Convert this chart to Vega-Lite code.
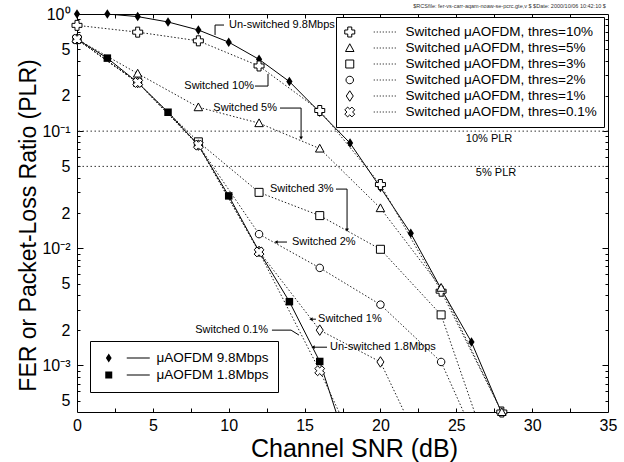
{
  "$schema": "https://vega.github.io/schema/vega-lite/v6.json",
  "width": 531,
  "height": 398,
  "autosize": {"type": "none"},
  "padding": {"left": 77, "top": 14, "right": 16, "bottom": 50},
  "background": "white",
  "title": {"text": "$RCSfile: fer-vs-carr-aqam-noaw-se-pcrc.gte,v $ $Date: 2000/10/06 10:42:10 $", "anchor": "end", "fontSize": 5.5, "font": "Liberation Sans", "fontWeight": "normal", "color": "#333", "offset": -3, "dx": -11},
  "config": {"view": {"stroke": "black", "strokeWidth": 1}, "font": "Liberation Sans", "axis": {"grid": false, "domain": false}},
  "data": {"values": [
    {"s": "μAOFDM 9.8Mbps", "snr": 0, "v": 1.0},
    {"s": "μAOFDM 9.8Mbps", "snr": 2, "v": 1.0},
    {"s": "μAOFDM 9.8Mbps", "snr": 4, "v": 0.95},
    {"s": "μAOFDM 9.8Mbps", "snr": 6, "v": 0.855},
    {"s": "μAOFDM 9.8Mbps", "snr": 8, "v": 0.73},
    {"s": "μAOFDM 9.8Mbps", "snr": 10, "v": 0.575},
    {"s": "μAOFDM 9.8Mbps", "snr": 12, "v": 0.41},
    {"s": "μAOFDM 9.8Mbps", "snr": 14, "v": 0.265},
    {"s": "μAOFDM 9.8Mbps", "snr": 16, "v": 0.145},
    {"s": "μAOFDM 9.8Mbps", "snr": 18, "v": 0.079},
    {"s": "μAOFDM 9.8Mbps", "snr": 20, "v": 0.033},
    {"s": "μAOFDM 9.8Mbps", "snr": 22, "v": 0.0134},
    {"s": "μAOFDM 9.8Mbps", "snr": 24, "v": 0.0045},
    {"s": "μAOFDM 9.8Mbps", "snr": 26, "v": 0.00158},
    {"s": "μAOFDM 9.8Mbps", "snr": 28, "v": 0.00039},
    {"s": "μAOFDM 1.8Mbps", "snr": 0, "v": 0.61},
    {"s": "μAOFDM 1.8Mbps", "snr": 2, "v": 0.42},
    {"s": "μAOFDM 1.8Mbps", "snr": 4, "v": 0.26},
    {"s": "μAOFDM 1.8Mbps", "snr": 6, "v": 0.145},
    {"s": "μAOFDM 1.8Mbps", "snr": 8, "v": 0.076},
    {"s": "μAOFDM 1.8Mbps", "snr": 10, "v": 0.028},
    {"s": "μAOFDM 1.8Mbps", "snr": 12, "v": 0.0094},
    {"s": "μAOFDM 1.8Mbps", "snr": 14, "v": 0.0035},
    {"s": "μAOFDM 1.8Mbps", "snr": 16, "v": 0.00108},
    {"s": "μAOFDM 1.8Mbps", "snr": 18, "v": 0.00017},
    {"s": "Switched μAOFDM, thres=10%", "snr": 0, "v": 0.8},
    {"s": "Switched μAOFDM, thres=10%", "snr": 4, "v": 0.7},
    {"s": "Switched μAOFDM, thres=10%", "snr": 8, "v": 0.59},
    {"s": "Switched μAOFDM, thres=10%", "snr": 12, "v": 0.36},
    {"s": "Switched μAOFDM, thres=10%", "snr": 16, "v": 0.15},
    {"s": "Switched μAOFDM, thres=10%", "snr": 20, "v": 0.035},
    {"s": "Switched μAOFDM, thres=10%", "snr": 24, "v": 0.0043},
    {"s": "Switched μAOFDM, thres=10%", "snr": 28, "v": 0.0004},
    {"s": "Switched μAOFDM, thres=5%", "snr": 0, "v": 0.61},
    {"s": "Switched μAOFDM, thres=5%", "snr": 4, "v": 0.31},
    {"s": "Switched μAOFDM, thres=5%", "snr": 8, "v": 0.16},
    {"s": "Switched μAOFDM, thres=5%", "snr": 12, "v": 0.117},
    {"s": "Switched μAOFDM, thres=5%", "snr": 16, "v": 0.071},
    {"s": "Switched μAOFDM, thres=5%", "snr": 20, "v": 0.022},
    {"s": "Switched μAOFDM, thres=5%", "snr": 24, "v": 0.0046},
    {"s": "Switched μAOFDM, thres=5%", "snr": 28, "v": 0.0004},
    {"s": "Switched μAOFDM, thres=3%", "snr": 0, "v": 0.61},
    {"s": "Switched μAOFDM, thres=3%", "snr": 4, "v": 0.26},
    {"s": "Switched μAOFDM, thres=3%", "snr": 8, "v": 0.081},
    {"s": "Switched μAOFDM, thres=3%", "snr": 12, "v": 0.03},
    {"s": "Switched μAOFDM, thres=3%", "snr": 16, "v": 0.019},
    {"s": "Switched μAOFDM, thres=3%", "snr": 20, "v": 0.0098},
    {"s": "Switched μAOFDM, thres=3%", "snr": 24, "v": 0.0027},
    {"s": "Switched μAOFDM, thres=3%", "snr": 28, "v": 0.000084},
    {"s": "Switched μAOFDM, thres=2%", "snr": 0, "v": 0.61},
    {"s": "Switched μAOFDM, thres=2%", "snr": 4, "v": 0.26},
    {"s": "Switched μAOFDM, thres=2%", "snr": 8, "v": 0.076},
    {"s": "Switched μAOFDM, thres=2%", "snr": 12, "v": 0.0132},
    {"s": "Switched μAOFDM, thres=2%", "snr": 16, "v": 0.0068},
    {"s": "Switched μAOFDM, thres=2%", "snr": 20, "v": 0.0033},
    {"s": "Switched μAOFDM, thres=2%", "snr": 24, "v": 0.00107},
    {"s": "Switched μAOFDM, thres=2%", "snr": 28, "v": 0.000075},
    {"s": "Switched μAOFDM, thres=1%", "snr": 0, "v": 0.61},
    {"s": "Switched μAOFDM, thres=1%", "snr": 4, "v": 0.26},
    {"s": "Switched μAOFDM, thres=1%", "snr": 8, "v": 0.076},
    {"s": "Switched μAOFDM, thres=1%", "snr": 12, "v": 0.0094},
    {"s": "Switched μAOFDM, thres=1%", "snr": 16, "v": 0.002},
    {"s": "Switched μAOFDM, thres=1%", "snr": 20, "v": 0.00107},
    {"s": "Switched μAOFDM, thres=1%", "snr": 24, "v": 0.000087},
    {"s": "Switched μAOFDM, thres=0.1%", "snr": 0, "v": 0.61},
    {"s": "Switched μAOFDM, thres=0.1%", "snr": 4, "v": 0.26},
    {"s": "Switched μAOFDM, thres=0.1%", "snr": 8, "v": 0.076},
    {"s": "Switched μAOFDM, thres=0.1%", "snr": 12, "v": 0.0093},
    {"s": "Switched μAOFDM, thres=0.1%", "snr": 16, "v": 0.0009},
    {"s": "Switched μAOFDM, thres=0.1%", "snr": 20, "v": 0.00007}
  ]},
  "resolve": {"scale": {"shape": "independent"}, "axis": {"x": "independent", "y": "independent"}},
  "layer": [
    {
      "data": {"values": [{"v": 0.1}, {"v": 0.05}]},
      "mark": {"type": "rule", "strokeDash": [1.5, 2.5], "color": "#333", "strokeWidth": 1},
      "encoding": {
        "y": {"field": "v", "type": "quantitative", "scale": {"type": "log", "domain": [0.0004, 1], "nice": false}, "axis": null}
      }
    },
    {
      "transform": [{"filter": "indexof(datum.s, 'Switched') < 0"}],
      "mark": {"type": "line", "color": "black", "strokeWidth": 1, "clip": true},
      "encoding": {
        "x": {"field": "snr", "type": "quantitative", "scale": {"domain": [0, 35], "nice": false, "zero": false}, "axis": null},
        "y": {"field": "v", "type": "quantitative", "scale": {"type": "log", "domain": [0.0004, 1], "nice": false}, "axis": null},
        "detail": {"field": "s", "type": "nominal"}
      }
    },
    {
      "transform": [{"filter": "indexof(datum.s, 'Switched') >= 0"}],
      "mark": {"type": "line", "color": "#222", "strokeWidth": 1, "strokeDash": [1.5, 2], "clip": true},
      "encoding": {
        "x": {"field": "snr", "type": "quantitative", "scale": {"domain": [0, 35], "nice": false, "zero": false}, "axis": null},
        "y": {"field": "v", "type": "quantitative", "scale": {"type": "log", "domain": [0.0004, 1], "nice": false}, "axis": null},
        "detail": {"field": "s", "type": "nominal"}
      }
    },
    {
      "transform": [{"filter": "indexof(datum.s, 'Switched') < 0 && datum.v >= 0.0004"}],
      "mark": {"type": "point", "filled": true, "color": "black", "opacity": 1, "size": 100, "strokeWidth": 0},
      "encoding": {
        "x": {"field": "snr", "type": "quantitative", "scale": {"domain": [0, 35], "nice": false, "zero": false}, "axis": null},
        "y": {"field": "v", "type": "quantitative", "scale": {"type": "log", "domain": [0.0004, 1], "nice": false}, "axis": null},
        "shape": {"field": "s", "type": "nominal", "legend": null, "scale": {"domain": ["μAOFDM 9.8Mbps", "μAOFDM 1.8Mbps"], "range": ["M0,-0.95L0.62,0L0,0.95L-0.62,0Z", "M-0.75,-0.75H0.75V0.75H-0.75Z"]}}
      }
    },
    {
      "transform": [{"filter": "indexof(datum.s, 'Switched') >= 0 && datum.v >= 0.0004"}],
      "mark": {"type": "point", "filled": true, "fill": "white", "stroke": "black", "opacity": 1, "size": 100, "strokeWidth": 1},
      "encoding": {
        "x": {"field": "snr", "type": "quantitative", "scale": {"domain": [0, 35], "nice": false, "zero": false}, "axis": null},
        "y": {"field": "v", "type": "quantitative", "scale": {"type": "log", "domain": [0.0004, 1], "nice": false}, "axis": null},
        "shape": {"field": "s", "type": "nominal", "legend": null, "scale": {
          "domain": ["Switched μAOFDM, thres=10%", "Switched μAOFDM, thres=5%", "Switched μAOFDM, thres=3%", "Switched μAOFDM, thres=2%", "Switched μAOFDM, thres=1%", "Switched μAOFDM, thres=0.1%"],
          "range": [
            "M-1,-0.4L-0.4,-0.4L-0.4,-1L0.4,-1L0.4,-0.4L1,-0.4L1,0.4L0.4,0.4L0.4,1L-0.4,1L-0.4,0.4L-1,0.4Z",
            "M0,-0.85L0.85,0.7L-0.85,0.7Z",
            "M-0.8,-0.8H0.8V0.8H-0.8Z",
            "M0.75,0A0.75,0.75 0 1 1 -0.75,0A0.75,0.75 0 1 1 0.75,0Z",
            "M0,-1.05L0.7,0L0,1.05L-0.7,0Z",
            "M0.424,-0.99L0.99,-0.424L0.566,0L0.99,0.424L0.424,0.99L0,0.566L-0.424,0.99L-0.99,0.424L-0.566,0L-0.99,-0.424L-0.424,-0.99L0,-0.566Z"
          ]}}
      }
    },
    {
      "data": {"values": [
        {"x": 9.10, "y": 0.805, "x2": 9.69, "y2": 0.805},
        {"x": 9.10, "y": 0.805, "x2": 9.10, "y2": 0.662},
        {"x": 11.73, "y": 0.2426, "x2": 12.59, "y2": 0.2426},
        {"x": 12.59, "y": 0.2426, "x2": 12.59, "y2": 0.3075},
        {"x": 13.38, "y": 0.1574, "x2": 14.77, "y2": 0.1574},
        {"x": 14.77, "y": 0.1574, "x2": 14.77, "y2": 0.0873},
        {"x": 17.07, "y": 0.032, "x2": 17.80, "y2": 0.032},
        {"x": 17.80, "y": 0.032, "x2": 17.80, "y2": 0.01429},
        {"x": 13.12, "y": 0.0113, "x2": 13.84, "y2": 0.0113},
        {"x": 15.42, "y": 0.00248, "x2": 15.75, "y2": 0.00248},
        {"x": 15.56, "y": 0.00143, "x2": 16.48, "y2": 0.00143},
        {"x": 12.85, "y": 0.002, "x2": 14.11, "y2": 0.002},
        {"x": 14.11, "y": 0.002, "x2": 14.63, "y2": 0.001815}
      ]},
      "mark": {"type": "rule", "color": "black", "strokeWidth": 1},
      "encoding": {
        "x": {"field": "x", "type": "quantitative", "scale": {"domain": [0, 35], "nice": false, "zero": false}, "axis": null},
        "x2": {"field": "x2"},
        "y": {"field": "y", "type": "quantitative", "scale": {"type": "log", "domain": [0.0004, 1], "nice": false}, "axis": null},
        "y2": {"field": "y2"}
      }
    },
    {
      "data": {"values": [
        {"x": 14.77, "y": 0.0873},
        {"x": 17.80, "y": 0.01429}
      ]},
      "mark": {"type": "point", "shape": "triangle-down", "filled": true, "color": "black", "opacity": 1, "size": 14, "strokeWidth": 0},
      "encoding": {
        "x": {"field": "x", "type": "quantitative", "scale": {"domain": [0, 35], "nice": false, "zero": false}, "axis": null},
        "y": {"field": "y", "type": "quantitative", "scale": {"type": "log", "domain": [0.0004, 1], "nice": false}, "axis": null}
      }
    },
    {
      "data": {"values": [
        {"x": 13.12, "y": 0.0113},
        {"x": 15.42, "y": 0.00248},
        {"x": 15.56, "y": 0.00143}
      ]},
      "mark": {"type": "point", "shape": "triangle-left", "filled": true, "color": "black", "opacity": 1, "size": 14, "strokeWidth": 0},
      "encoding": {
        "x": {"field": "x", "type": "quantitative", "scale": {"domain": [0, 35], "nice": false, "zero": false}, "axis": null},
        "y": {"field": "y", "type": "quantitative", "scale": {"type": "log", "domain": [0.0004, 1], "nice": false}, "axis": null}
      }
    },
    {
      "data": {"values": [
        {"t": "Un-switched 9.8Mbps", "snr": 10.02, "v": 0.805},
        {"t": "Switched 3%", "snr": 12.72, "v": 0.032},
        {"t": "Switched 2%", "snr": 14.17, "v": 0.0113},
        {"t": "Switched 1%", "snr": 15.89, "v": 0.00248},
        {"t": "Un-switched 1.8Mbps", "snr": 16.68, "v": 0.00143}
      ]},
      "mark": {"type": "text", "align": "left", "baseline": "middle", "fontSize": 11, "font": "Liberation Sans", "color": "black"},
      "encoding": {
        "x": {"field": "snr", "type": "quantitative", "scale": {"domain": [0, 35], "nice": false, "zero": false}, "axis": null},
        "y": {"field": "v", "type": "quantitative", "scale": {"type": "log", "domain": [0.0004, 1], "nice": false}, "axis": null},
        "text": {"field": "t"}
      }
    },
    {
      "data": {"values": [
        {"t": "Switched 10%", "snr": 11.67, "v": 0.2426},
        {"t": "Switched 5%", "snr": 13.18, "v": 0.1574},
        {"t": "Switched 0.1%", "snr": 12.59, "v": 0.002}
      ]},
      "mark": {"type": "text", "align": "right", "baseline": "middle", "fontSize": 11, "font": "Liberation Sans", "color": "black"},
      "encoding": {
        "x": {"field": "snr", "type": "quantitative", "scale": {"domain": [0, 35], "nice": false, "zero": false}, "axis": null},
        "y": {"field": "v", "type": "quantitative", "scale": {"type": "log", "domain": [0.0004, 1], "nice": false}, "axis": null},
        "text": {"field": "t"}
      }
    },
    {
      "data": {"values": [
        {"t": "10% PLR", "snr": 27.16, "v": 0.0855},
        {"t": "5% PLR", "snr": 27.62, "v": 0.0438}
      ]},
      "mark": {"type": "text", "align": "center", "baseline": "middle", "fontSize": 11, "font": "Liberation Sans", "color": "black"},
      "encoding": {
        "x": {"field": "snr", "type": "quantitative", "scale": {"domain": [0, 35], "nice": false, "zero": false}, "axis": null},
        "y": {"field": "v", "type": "quantitative", "scale": {"type": "log", "domain": [0.0004, 1], "nice": false}, "axis": null},
        "text": {"field": "t"}
      }
    },
    {
      "transform": [{"filter": "false"}],
      "mark": {"type": "point", "filled": false, "color": "black", "opacity": 1, "size": 100, "strokeWidth": 1},
      "encoding": {
        "x": {"field": "snr", "type": "quantitative", "scale": {"domain": [0, 35], "nice": false, "zero": false}, "axis": null},
        "y": {"field": "v", "type": "quantitative", "scale": {"type": "log", "domain": [0.0004, 1], "nice": false}, "axis": null},
        "shape": {"field": "s", "type": "nominal",
          "scale": {
            "domain": ["Switched μAOFDM, thres=10%", "Switched μAOFDM, thres=5%", "Switched μAOFDM, thres=3%", "Switched μAOFDM, thres=2%", "Switched μAOFDM, thres=1%", "Switched μAOFDM, thres=0.1%"],
            "range": [
              "M-1,-0.4L-0.4,-0.4L-0.4,-1L0.4,-1L0.4,-0.4L1,-0.4L1,0.4L0.4,0.4L0.4,1L-0.4,1L-0.4,0.4L-1,0.4ZM4.8,0h0.2M5.4,0h0.2M6,0h0.2M6.6,0h0.2M7.2,0h0.2M7.8,0h0.2M8.4,0h0.2M9,0h0.2",
              "M0,-0.85L0.85,0.7L-0.85,0.7ZM4.8,0h0.2M5.4,0h0.2M6,0h0.2M6.6,0h0.2M7.2,0h0.2M7.8,0h0.2M8.4,0h0.2M9,0h0.2",
              "M-0.8,-0.8H0.8V0.8H-0.8ZM4.8,0h0.2M5.4,0h0.2M6,0h0.2M6.6,0h0.2M7.2,0h0.2M7.8,0h0.2M8.4,0h0.2M9,0h0.2",
              "M0.75,0A0.75,0.75 0 1 1 -0.75,0A0.75,0.75 0 1 1 0.75,0ZM4.8,0h0.2M5.4,0h0.2M6,0h0.2M6.6,0h0.2M7.2,0h0.2M7.8,0h0.2M8.4,0h0.2M9,0h0.2",
              "M0,-1.05L0.7,0L0,1.05L-0.7,0ZM4.8,0h0.2M5.4,0h0.2M6,0h0.2M6.6,0h0.2M7.2,0h0.2M7.8,0h0.2M8.4,0h0.2M9,0h0.2",
              "M0.424,-0.99L0.99,-0.424L0.566,0L0.99,0.424L0.424,0.99L0,0.566L-0.424,0.99L-0.99,0.424L-0.566,0L-0.99,-0.424L-0.424,-0.99L0,-0.566ZM4.8,0h0.2M5.4,0h0.2M6,0h0.2M6.6,0h0.2M7.2,0h0.2M7.8,0h0.2M8.4,0h0.2M9,0h0.2"
            ]
          },
          "legend": {
            "orient": "none", "legendX": 259, "legendY": 3, "title": null,
            "strokeColor": "black", "fillColor": "white", "padding": 7,
            "labelFont": "Liberation Sans", "labelFontSize": 13.5, "labelColor": "black", "labelOffset": 49, "labelLimit": 400,
            "clipHeight": 16, "rowPadding": 0, "symbolSize": 100,
            "symbolStrokeColor": "black", "symbolStrokeWidth": 1, "symbolFillColor": "transparent",
            "encode": {"symbols": {"update": {"stroke": {"value": "black"}, "strokeWidth": {"value": 1}, "fill": {"value": "transparent"}, "opacity": {"value": 1}}}}
          }
        }
      }
    },
    {
      "transform": [{"filter": "false"}],
      "mark": {"type": "point", "filled": true, "fill": "black", "stroke": "black", "opacity": 1, "size": 100, "strokeWidth": 1},
      "encoding": {
        "x": {"field": "snr", "type": "quantitative", "scale": {"domain": [0, 35], "nice": false, "zero": false}, "axis": null},
        "y": {"field": "v", "type": "quantitative", "scale": {"type": "log", "domain": [0.0004, 1], "nice": false}, "axis": null},
        "shape": {"field": "s", "type": "nominal",
          "scale": {
            "domain": ["μAOFDM 9.8Mbps", "μAOFDM 1.8Mbps"],
            "range": ["M0,-0.9L0.58,0L0,0.9L-0.58,0ZM3.6,-0.1H8.2V0.1H3.6Z", "M-0.7,-0.7H0.7V0.7H-0.7ZM3.6,-0.1H8.2V0.1H3.6Z"]
          },
          "legend": {
            "orient": "none", "legendX": 13, "legendY": 327, "title": null,
            "strokeColor": "black", "fillColor": "white", "padding": 9,
            "labelFont": "Liberation Sans", "labelFontSize": 13.5, "labelColor": "black", "labelOffset": 41, "labelLimit": 400,
            "symbolOffset": 3, "clipHeight": 16, "rowPadding": 1, "symbolSize": 100,
            "symbolStrokeColor": "black", "symbolStrokeWidth": 0, "symbolFillColor": "black",
            "encode": {"symbols": {"update": {"fill": {"value": "black"}, "opacity": {"value": 1}}}}
          }
        }
      }
    },
    {
      "transform": [{"filter": "false"}],
      "mark": {"type": "point"},
      "encoding": {
        "x": {"field": "snr", "type": "quantitative", "scale": {"domain": [0, 35], "nice": false, "zero": false},
          "axis": {"orient": "bottom", "values": [0, 5, 10, 15, 20, 25, 30, 35], "ticks": false, "labels": true, "labelFontSize": 16, "labelFont": "Liberation Sans", "labelColor": "black", "labelPadding": 5, "labelFlush": false, "labelOverlap": false, "domain": false, "grid": false, "format": "d",
            "title": "Channel SNR (dB)", "titleFontSize": 25, "titleFont": "Liberation Sans", "titleFontWeight": "normal", "titleColor": "black", "titleX": 277, "titleY": 44, "titleBaseline": "alphabetic", "titleAlign": "center"}},
        "y": {"field": "v", "type": "quantitative", "scale": {"type": "log", "domain": [0.0004, 1], "nice": false},
          "axis": {"orient": "left", "values": [1, 0.5, 0.2, 0.1, 0.05, 0.02, 0.01, 0.005, 0.002, 0.001, 0.0005], "ticks": false, "labelFontSize": 16, "labelFont": "Liberation Sans", "labelColor": "black", "labelPadding": 7, "labelFlush": false, "labelOverlap": false, "domain": false, "grid": false,
            "labelExpr": "round(datum.value / pow(10, floor(log(datum.value)/LN10 + 1e-6))) == 1 ? ['10⁰','10⁻¹','10⁻²','10⁻³'][-floor(log(datum.value)/LN10 + 1e-6)] : '' + round(datum.value / pow(10, floor(log(datum.value)/LN10 + 1e-6)))",
            "title": "FER or Packet-Loss Ratio (PLR)", "titleFontSize": 23, "titleFont": "Liberation Sans", "titleFontWeight": "normal", "titleColor": "black", "titleX": -49, "titleY": 211, "titleAngle": -90, "titleBaseline": "middle", "titleAlign": "center"}}
      }
    },
    {
      "transform": [{"filter": "false"}],
      "mark": {"type": "point"},
      "encoding": {
        "x": {"field": "snr", "type": "quantitative", "scale": {"domain": [0, 35], "nice": false, "zero": false},
          "axis": {"orient": "bottom", "values": [2.5, 5, 7.5, 10, 12.5, 15, 17.5, 20, 22.5, 25, 27.5, 30, 32.5], "ticks": true, "tickSize": -4, "tickColor": "black", "tickWidth": 1, "labels": false, "domain": false, "grid": false, "title": null}},
        "y": {"field": "v", "type": "quantitative", "scale": {"type": "log", "domain": [0.0004, 1], "nice": false},
          "axis": {"orient": "left", "values": [0.0005, 0.0006, 0.0007, 0.0008, 0.0009, 0.002, 0.003, 0.004, 0.005, 0.006, 0.007, 0.008, 0.009, 0.02, 0.03, 0.04, 0.05, 0.06, 0.07, 0.08, 0.09, 0.2, 0.3, 0.4, 0.5, 0.6, 0.7, 0.8, 0.9], "ticks": true, "tickSize": -3, "tickColor": "black", "tickWidth": 1, "labels": false, "domain": false, "grid": false, "title": null}}
      }
    },
    {
      "transform": [{"filter": "false"}],
      "mark": {"type": "point"},
      "encoding": {
        "x": {"field": "snr", "type": "quantitative", "scale": {"domain": [0, 35], "nice": false, "zero": false},
          "axis": {"orient": "top", "values": [2.5, 5, 7.5, 10, 12.5, 15, 17.5, 20, 22.5, 25, 27.5, 30, 32.5], "ticks": true, "tickSize": -4, "tickColor": "black", "tickWidth": 1, "labels": false, "domain": false, "grid": false, "title": null}},
        "y": {"field": "v", "type": "quantitative", "scale": {"type": "log", "domain": [0.0004, 1], "nice": false},
          "axis": {"orient": "left", "values": [0.1, 0.01, 0.001], "ticks": true, "tickSize": -6, "tickColor": "black", "tickWidth": 1, "labels": false, "domain": false, "grid": false, "title": null}}
      }
    },
    {
      "transform": [{"filter": "false"}],
      "mark": {"type": "point"},
      "encoding": {
        "x": {"field": "snr", "type": "quantitative", "scale": {"domain": [0, 35], "nice": false, "zero": false}, "axis": null},
        "y": {"field": "v", "type": "quantitative", "scale": {"type": "log", "domain": [0.0004, 1], "nice": false},
          "axis": {"orient": "right", "values": [0.0005, 0.0006, 0.0007, 0.0008, 0.0009, 0.002, 0.003, 0.004, 0.005, 0.006, 0.007, 0.008, 0.009, 0.02, 0.03, 0.04, 0.05, 0.06, 0.07, 0.08, 0.09, 0.2, 0.3, 0.4, 0.5, 0.6, 0.7, 0.8, 0.9], "ticks": true, "tickSize": -3, "tickColor": "black", "tickWidth": 1, "labels": false, "domain": false, "grid": false, "title": null}}
      }
    },
    {
      "transform": [{"filter": "false"}],
      "mark": {"type": "point"},
      "encoding": {
        "x": {"field": "snr", "type": "quantitative", "scale": {"domain": [0, 35], "nice": false, "zero": false}, "axis": null},
        "y": {"field": "v", "type": "quantitative", "scale": {"type": "log", "domain": [0.0004, 1], "nice": false},
          "axis": {"orient": "right", "values": [0.1, 0.01, 0.001], "ticks": true, "tickSize": -6, "tickColor": "black", "tickWidth": 1, "labels": false, "domain": false, "grid": false, "title": null}}
      }
    }
  ]
}
